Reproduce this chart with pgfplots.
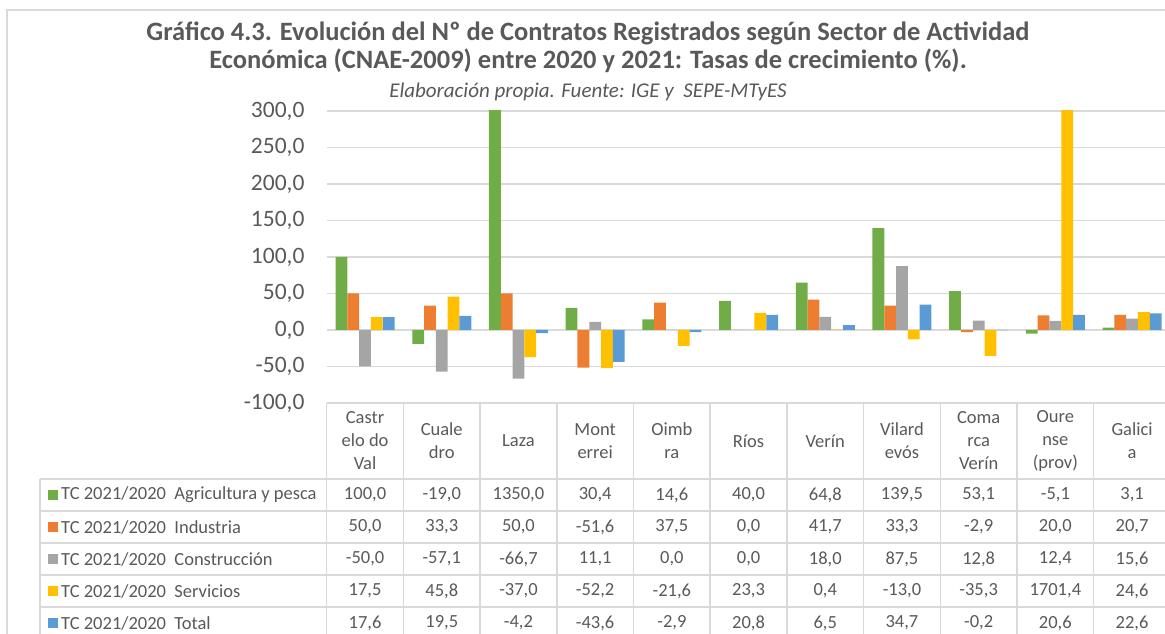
\documentclass[border=0pt]{standalone}
\usepackage{pgfplots}
\pgfplotsset{compat=1.18}
\usepackage{fontspec}
\setmainfont{Carlito}
\definecolor{cg}{HTML}{70AD47}
\definecolor{co}{HTML}{ED7D31}
\definecolor{cgr}{HTML}{A5A5A5}
\definecolor{cy}{HTML}{FFC000}
\definecolor{cb}{HTML}{5B9BD5}
\definecolor{tc}{HTML}{595959}
\definecolor{gl}{HTML}{D9D9D9}
\begin{document}
\begin{tikzpicture}
\useasboundingbox (0,0) rectangle (1165pt,634pt);
\clip (0,0) rectangle (1165pt,634pt);
\begin{axis}[
  at={(326.7pt,231pt)}, anchor=south west,
  width=843.7pt, height=292pt, scale only axis,
  xmin=-0.5, xmax=10.5, ymin=-100, ymax=300,
  axis line style={draw=none}, tick style={draw=none},
  xtick=\empty,
  ytick={-100,-50,0,50,100,150,200,250,300},
  yticklabels={-100{,}0,-50{,}0,0{,}0,50{,}0,100{,}0,150{,}0,200{,}0,250{,}0,300{,}0},
  yticklabel style={font=\fontsize{23.5}{28}\selectfont, text=tc, inner sep=0pt, xshift=-22pt},
  ymajorgrids, grid style={gl, line width=1.5pt},
  clip=true,
]
\addplot[ybar, fill=cg, draw=none, bar width=0.1538, bar shift=-0.3077] coordinates {(0,100.0) (1,-19.0) (2,1350.0) (3,30.4) (4,14.6) (5,40.0) (6,64.8) (7,139.5) (8,53.1) (9,-5.1) (10,3.1)};
\addplot[ybar, fill=co, draw=none, bar width=0.1538, bar shift=-0.1538] coordinates {(0,50.0) (1,33.3) (2,50.0) (3,-51.6) (4,37.5) (5,0.0) (6,41.7) (7,33.3) (8,-2.9) (9,20.0) (10,20.7)};
\addplot[ybar, fill=cgr, draw=none, bar width=0.1538, bar shift=0] coordinates {(0,-50.0) (1,-57.1) (2,-66.7) (3,11.1) (4,0.0) (5,0.0) (6,18.0) (7,87.5) (8,12.8) (9,12.4) (10,15.6)};
\addplot[ybar, fill=cy, draw=none, bar width=0.1538, bar shift=0.1538] coordinates {(0,17.5) (1,45.8) (2,-37.0) (3,-52.2) (4,-21.6) (5,23.3) (6,0.4) (7,-13.0) (8,-35.3) (9,1701.4) (10,24.6)};
\addplot[ybar, fill=cb, draw=none, bar width=0.1538, bar shift=0.3077] coordinates {(0,17.6) (1,19.5) (2,-4.2) (3,-43.6) (4,-2.9) (5,20.8) (6,6.5) (7,34.7) (8,-0.2) (9,20.6) (10,22.6)};
\end{axis}
\begin{scope}[x=1pt,y=-1pt,shift={(0,634pt)}]
  % outer border
  \draw[gl, line width=1.2pt] (7,650) -- (7,10) -- (1180,10);
  % title
  \node[text=tc, anchor=base, font=\fontsize{26.5}{30}\selectfont\bfseries] at (588,41) {Gráfico 4.3. Evolución del Nº de Contratos Registrados según Sector de Actividad};
  \node[text=tc, anchor=base, font=\fontsize{26.5}{30}\selectfont\bfseries] at (588,69) {Económica (CNAE-2009) entre 2020 y 2021: Tasas de crecimiento (\%).};
  \node[text=tc, anchor=base, font=\fontsize{21}{24}\selectfont\itshape] at (588,98) {Elaboración propia. Fuente: IGE y\ \ SEPE-MTyES};
  % table lines
  \foreach \k in {0,...,11} {
    \draw[gl, line width=1.5pt] ({326.7+76.7*\k},403) -- ({326.7+76.7*\k},650);
  }
  \draw[gl, line width=1.5pt] (40,479) -- (40,650);
  \draw[gl, line width=1.5pt] (326.7,403) -- (1180,403);
  \foreach \yy in {479,511,543,575,607} {
    \draw[gl, line width=1.5pt] (40,\yy) -- (1180,\yy);
  }
  % headers
  \foreach \h [count=\i from 0] in {{Castr\\elo do\\Val},{Cuale\\dro},{Laza},{Mont\\errei},{Oimb\\ra},{Ríos},{Verín},{Vilard\\evós},{Coma\\rca\\Verín},{Oure\\nse\\(prov)},{Galici\\a}} {
    \node[text=tc, align=center, font=\fontsize{18.5}{23}\selectfont] at ({326.7+76.7*(\i+0.5)},441) {\h};
  }
  % legend column
  \foreach \c/\t [count=\r from 0] in {cg/Agricultura y pesca, co/Industria, cgr/Construcción, cy/Servicios, cb/Total} {
    \fill[\c] (47.7,{495+32*\r-5}) rectangle (58,{495+32*\r+5});
    \node[text=tc, anchor=west, inner sep=0pt, font=\fontsize{18.5}{23}\selectfont] at (61,{495+32*\r}) {TC 2021/2020\ \ \t};
  }
  % values
  \foreach \v [count=\i from 0] in {{100,0},{-19,0},{1350,0},{30,4},{14,6},{40,0},{64,8},{139,5},{53,1},{-5,1},{3,1}} {
    \node[text=tc, font=\fontsize{18.5}{23}\selectfont] at ({326.7+76.7*(\i+0.5)},495) {\v};
  }
  \foreach \v [count=\i from 0] in {{50,0},{33,3},{50,0},{-51,6},{37,5},{0,0},{41,7},{33,3},{-2,9},{20,0},{20,7}} {
    \node[text=tc, font=\fontsize{18.5}{23}\selectfont] at ({326.7+76.7*(\i+0.5)},527) {\v};
  }
  \foreach \v [count=\i from 0] in {{-50,0},{-57,1},{-66,7},{11,1},{0,0},{0,0},{18,0},{87,5},{12,8},{12,4},{15,6}} {
    \node[text=tc, font=\fontsize{18.5}{23}\selectfont] at ({326.7+76.7*(\i+0.5)},559) {\v};
  }
  \foreach \v [count=\i from 0] in {{17,5},{45,8},{-37,0},{-52,2},{-21,6},{23,3},{0,4},{-13,0},{-35,3},{1701,4},{24,6}} {
    \node[text=tc, font=\fontsize{18.5}{23}\selectfont] at ({326.7+76.7*(\i+0.5)},591) {\v};
  }
  \foreach \v [count=\i from 0] in {{17,6},{19,5},{-4,2},{-43,6},{-2,9},{20,8},{6,5},{34,7},{-0,2},{20,6},{22,6}} {
    \node[text=tc, font=\fontsize{18.5}{23}\selectfont] at ({326.7+76.7*(\i+0.5)},623) {\v};
  }
\end{scope}
\end{tikzpicture}
\end{document}
